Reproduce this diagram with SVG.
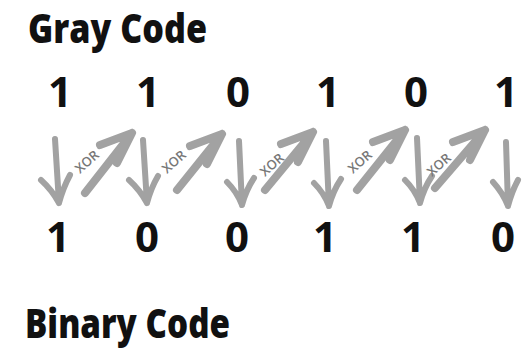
<svg xmlns="http://www.w3.org/2000/svg" width="527" height="350" viewBox="0 0 527 350">
  <style>
    .title { font-family: "Open Sans", "Liberation Sans", sans-serif; font-weight: 800; font-size: 40px; fill: #111; }
    .bit { font-family: "Open Sans", "Liberation Sans", sans-serif; font-weight: 700; font-size: 42px; fill: #111; text-anchor: middle; }
    .down { fill: none; stroke: #a2a2a2; stroke-width: 6; stroke-linecap: round; stroke-linejoin: round; }
    .diag { fill: none; stroke: #a2a2a2; stroke-width: 8; stroke-linecap: round; stroke-linejoin: round; }
    .xor { font-family: "Open Sans", "Liberation Sans", sans-serif; font-weight: 600; font-size: 13px; fill: #777; text-anchor: middle; }
  </style>
  <rect width="527" height="350" fill="#fff"/>

  <g id="gray-title">
    <text class="title" x="28" y="43" textLength="179" lengthAdjust="spacingAndGlyphs">Gray Code</text>
  </g>

  <g id="gray-bits">
    <text class="bit" x="60" y="107">1</text>
    <text class="bit" x="148" y="107">1</text>
    <text class="bit" x="238" y="107">0</text>
    <text class="bit" x="328" y="107">1</text>
    <text class="bit" x="416" y="107">0</text>
    <text class="bit" x="506" y="107">1</text>
  </g>

  <g id="connectors">
    <!-- straight-down copies -->
    <path class="down" d="M55 139 L59 203 M41 180 Q52 190 59 203 Q63 188 70 175"/>
    <path class="down" d="M143 140 L147 203 M129 180 Q140 190 147 203 Q151 188 158 176"/>
    <path class="down" d="M239 141 L242 205 M227 182 Q237 192 242 205 Q246 190 254 178"/>
    <path class="down" d="M326 141 L329 206 M314 183 Q324 193 329 206 Q333 191 341 179"/>
    <path class="down" d="M417 138 L420 203 M405 180 Q415 190 420 203 Q424 188 432 176"/>
    <path class="down" d="M506 142 L508 206 M493 182 Q503 193 508 206 Q512 191 518 180"/>
    <!-- diagonal XOR carries -->
    <path class="diag" d="M85 193 L132 133 M100 145 L132 133 L117 163"/>
    <path class="diag" d="M177 190 L222 134 M190 146 L222 134 L207 164"/>
    <path class="diag" d="M265 190 L313 132 M281 144 L313 132 L298 162"/>
    <path class="diag" d="M357 190 L405 130 M373 142 L405 130 L390 160"/>
    <path class="diag" d="M435 188 L485 130 M453 142 L485 130 L470 160"/>
    <!-- labels -->
    <text class="xor" transform="translate(90 165) rotate(-42)">XOR</text>
    <text class="xor" transform="translate(177 165) rotate(-42)">XOR</text>
    <text class="xor" transform="translate(275 168) rotate(-42)">XOR</text>
    <text class="xor" transform="translate(363 165) rotate(-42)">XOR</text>
    <text class="xor" transform="translate(442 168) rotate(-42)">XOR</text>
  </g>

  <g id="binary-bits">
    <text class="bit" x="58" y="252">1</text>
    <text class="bit" x="147" y="252">0</text>
    <text class="bit" x="237" y="252">0</text>
    <text class="bit" x="325" y="252">1</text>
    <text class="bit" x="413" y="252">1</text>
    <text class="bit" x="503" y="252">0</text>
  </g>

  <g id="binary-title">
    <text class="title" x="25" y="338" textLength="205" lengthAdjust="spacingAndGlyphs">Binary Code</text>
  </g>
</svg>
